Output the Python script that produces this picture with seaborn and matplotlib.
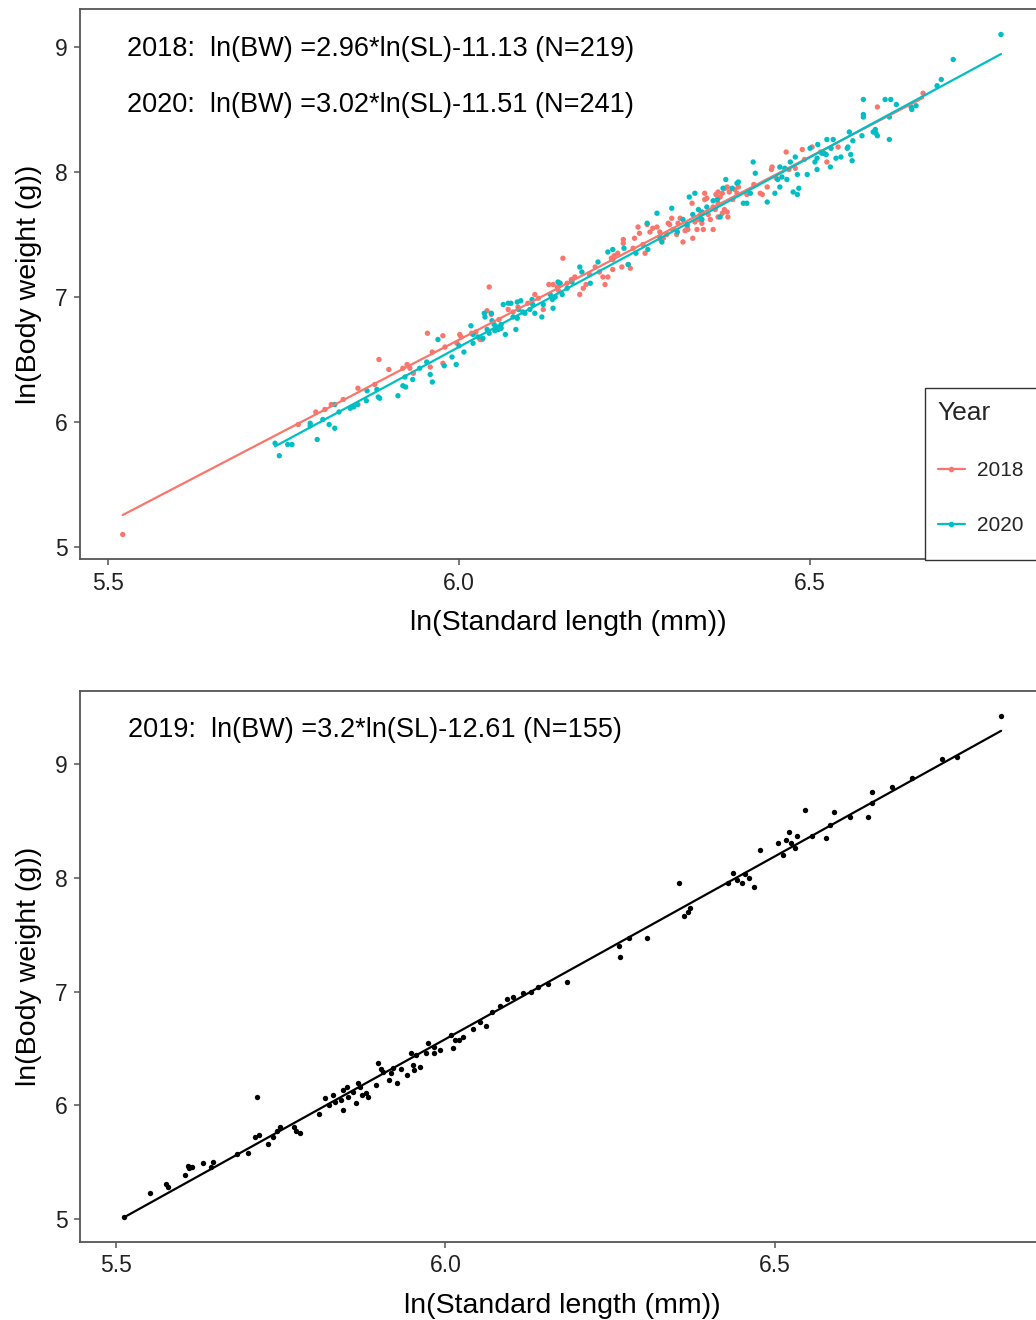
import numpy as np
import pandas as pd
import matplotlib
matplotlib.use('Agg')
import matplotlib.pyplot as plt
from matplotlib.lines import Line2D
from matplotlib.patches import Rectangle
import seaborn as sns

# ---------------- data (ln standard length, ln body weight) ----------------
years_top = ['2018', '2020']

x2018 = [5.521, 5.771, 5.796, 5.809, 5.818, 5.835, 5.856, 5.856, 5.880, 5.886,
         5.900, 5.920, 5.926, 5.930, 5.935, 5.955, 5.959, 5.962, 5.977, 5.977,
         5.980, 5.997, 6.001, 6.003, 6.018, 6.024, 6.030, 6.033, 6.040, 6.043,
         6.046, 6.057, 6.077, 6.084, 6.108, 6.113, 6.120, 6.128, 6.134, 6.140,
         6.148, 6.154, 6.160, 6.172, 6.177, 6.181, 6.194, 6.205, 6.208, 6.212,
         6.219, 6.217, 6.221, 6.219, 6.232, 6.234, 6.234, 6.241, 6.244, 6.248,
         6.255, 6.257, 6.265, 6.268, 6.272, 6.276, 6.282, 6.286, 6.291, 6.296,
         6.298, 6.303, 6.305, 6.312, 6.315, 6.319, 6.325, 6.326, 6.332, 6.333,
         6.339, 6.341, 6.346, 6.348, 6.350, 6.353, 6.362, 6.365, 6.369, 6.372,
         6.375, 6.382, 6.383, 6.382, 6.385, 6.390, 6.396, 6.661, 6.596, 6.524,
         6.503, 6.489, 6.466, 6.479, 6.446, 6.445, 6.439, 6.429, 6.432, 6.410,
         6.398, 6.393, 6.379, 6.375, 6.369, 6.366, 6.350, 6.378, 6.362, 6.355,
         6.369, 6.300, 6.310, 6.322, 6.336, 6.344, 6.358, 6.287, 6.262, 6.250,
         6.226, 6.200, 6.186, 6.165, 6.142, 6.098, 6.070, 6.420, 6.452, 6.470,
         6.492, 6.515, 6.540]
y2018 = [5.10, 5.98, 6.08, 6.10, 6.14, 6.18, 6.27, 6.14, 6.30, 6.50,
         6.42, 6.43, 6.46, 6.43, 6.39, 6.71, 6.44, 6.56, 6.69, 6.47,
         6.60, 6.63, 6.70, 6.68, 6.71, 6.72, 6.66, 6.66, 6.89, 7.08,
         6.86, 6.82, 6.88, 6.92, 7.02, 6.99, 6.90, 7.10, 7.10, 7.08,
         7.31, 7.11, 7.14, 7.02, 7.07, 7.10, 7.24, 7.16, 7.10, 7.16,
         7.22, 7.31, 7.33, 7.30, 7.24, 7.46, 7.43, 7.26, 7.23, 7.39,
         7.56, 7.51, 7.35, 7.58, 7.52, 7.55, 7.56, 7.52, 7.47, 7.50,
         7.59, 7.63, 7.54, 7.59, 7.63, 7.44, 7.56, 7.54, 7.75, 7.47,
         7.54, 7.62, 7.59, 7.54, 7.83, 7.79, 7.54, 7.70, 7.75, 7.80,
         7.67, 7.68, 7.64, 7.88, 7.84, 7.78, 7.83, 8.63, 8.52, 8.08,
         8.20, 8.18, 8.16, 8.03, 8.04, 8.02, 7.88, 7.83, 7.82, 7.82,
         7.88, 7.86, 7.87, 7.83, 7.84, 7.82, 7.78, 7.70, 7.72, 7.66,
         7.64, 7.58, 7.50, 7.53, 7.60, 7.66, 7.62, 7.46, 7.42, 7.47,
         7.35, 7.20, 7.18, 7.16, 7.05, 6.95, 6.90, 7.90, 7.95, 8.02,
         8.10, 8.16, 8.20]

x2020 = [5.738, 5.744, 5.756, 5.762, 5.788, 5.788, 5.798, 5.806, 5.815, 5.823,
         5.823, 5.829, 5.845, 5.850, 5.855, 5.868, 5.869, 5.883, 5.885, 5.887,
         5.913, 5.920, 5.924, 5.923, 5.934, 5.944, 5.954, 5.959, 5.962, 5.970,
         5.979, 5.990, 5.996, 6.000, 6.007, 6.017, 6.020, 6.020, 6.027, 6.034,
         6.036, 6.037, 6.046, 6.047, 6.043, 6.051, 6.054, 6.060, 6.066, 6.063,
         6.070, 6.074, 6.081, 6.083,
         6.040, 6.050, 6.056, 6.060, 6.077, 6.083, 6.088, 6.085, 6.091, 6.094,
         6.101, 6.105, 6.108, 6.104, 6.118, 6.120, 6.130, 6.133, 6.134, 6.137,
         6.141, 6.144, 6.147, 6.154, 6.161, 6.172, 6.175, 6.187, 6.198, 6.212,
         6.219, 6.235, 6.241, 6.252, 6.268, 6.269, 6.282, 6.286, 6.289, 6.303,
         6.311, 6.319, 6.325, 6.328, 6.333, 6.336, 6.341, 6.346, 6.353, 6.362,
         6.368, 6.372, 6.376, 6.380, 6.389, 6.396,
         6.704, 6.687, 6.681, 6.651, 6.645, 6.644, 6.623, 6.615, 6.607, 6.613,
         6.613, 6.593, 6.594, 6.590, 6.576, 6.576, 6.576, 6.574, 6.561, 6.556,
         6.554, 6.553, 6.558, 6.560, 6.544, 6.537, 6.533, 6.530, 6.524, 6.523,
         6.520, 6.529, 6.517, 6.511, 6.510, 6.507, 6.510, 6.500, 6.496, 6.484,
         6.482, 6.479, 6.472, 6.464, 6.467, 6.457, 6.460, 6.457, 6.454, 6.450,
         6.439, 6.422, 6.419, 6.415, 6.410, 6.405, 6.398, 6.346, 6.482, 6.476,
         6.772, 6.596]
y2020 = [5.83, 5.73, 5.82, 5.82, 5.97, 5.99, 5.86, 6.02, 5.98, 5.95,
         6.14, 6.08, 6.11, 6.12, 6.14, 6.17, 6.25, 6.26, 6.20, 6.19,
         6.21, 6.29, 6.28, 6.36, 6.34, 6.43, 6.48, 6.38, 6.32, 6.66,
         6.45, 6.52, 6.46, 6.61, 6.56, 6.77, 6.63, 6.70, 6.68, 6.67,
         6.87, 6.84, 6.87, 6.81, 6.71, 6.73, 6.76, 6.75, 6.70, 6.94,
         6.95, 6.95, 6.74, 6.83,
         6.74, 6.78, 6.74, 6.78, 6.84, 6.96, 6.97, 6.90, 6.88, 6.87,
         6.90, 6.94, 6.87, 6.98, 6.84, 6.94, 7.02, 6.98, 6.91, 7.00,
         7.12, 7.11, 7.02, 7.07, 7.12, 7.24, 7.20, 7.11, 7.28, 7.36,
         7.38, 7.39, 7.26, 7.35, 7.59, 7.38, 7.67, 7.48, 7.44, 7.71,
         7.52, 7.62, 7.58, 7.80, 7.66, 7.83, 7.70, 7.62, 7.72, 7.77,
         7.78, 7.64, 7.87, 7.94, 7.87, 7.91,
         8.90, 8.74, 8.69, 8.53, 8.50, 8.52, 8.54, 8.58, 8.58, 8.44,
         8.26, 8.34, 8.31, 8.32, 8.58, 8.46, 8.44, 8.29, 8.25, 8.32,
         8.20, 8.19, 8.14, 8.09, 8.12, 8.11, 8.26, 8.19, 8.26, 8.14,
         8.15, 8.04, 8.15, 8.22, 8.11, 8.08, 8.02, 8.19, 7.98, 7.87,
         7.98, 8.12, 8.08, 8.03, 7.94, 8.04, 7.96, 7.88, 7.94, 7.83,
         7.76, 7.99, 8.08, 7.83, 7.75, 7.75, 7.92, 7.68, 7.82, 7.84,
         9.10, 8.29]

x2019 = [5.512, 5.551, 5.576, 5.579, 5.605, 5.609, 5.611, 5.615, 5.632, 5.644,
         5.648, 5.683, 5.700, 5.714, 5.711, 5.717, 5.730, 5.739, 5.745, 5.749,
         5.770, 5.773, 5.780, 5.808, 5.817, 5.823, 5.830, 5.833, 5.841, 5.845,
         5.845, 5.850, 5.852, 5.859, 5.864, 5.868, 5.871, 5.874, 5.879, 5.882,
         5.894, 5.897, 5.902, 5.905, 5.914, 5.917, 5.921, 5.927, 5.932, 5.941,
         5.950, 5.952, 5.962, 5.947, 5.955, 5.970, 5.973, 5.982, 5.982, 5.992,
         6.008, 6.011, 6.015, 6.020, 6.026, 6.042, 6.053, 6.061, 6.071, 6.083,
         6.094, 6.103, 6.117, 6.129, 6.141, 6.155, 6.185, 6.264, 6.265, 6.279,
         6.306, 6.355, 6.362, 6.368, 6.371, 6.429, 6.436, 6.442, 6.450, 6.455,
         6.461, 6.468, 6.477, 6.505, 6.512, 6.517, 6.521, 6.524, 6.530, 6.533,
         6.545, 6.556, 6.577, 6.583, 6.589, 6.614, 6.641, 6.647, 6.647, 6.677,
         6.708, 6.753, 6.776, 6.843]
y2019 = [5.02, 5.23, 5.31, 5.28, 5.39, 5.47, 5.45, 5.46, 5.49, 5.46,
         5.50, 5.57, 5.58, 6.07, 5.72, 5.74, 5.66, 5.72, 5.77, 5.81,
         5.81, 5.77, 5.76, 5.92, 6.06, 6.00, 6.09, 6.03, 6.05, 5.96,
         6.13, 6.16, 6.07, 6.12, 6.02, 6.20, 6.16, 6.09, 6.11, 6.07,
         6.18, 6.37, 6.32, 6.29, 6.22, 6.28, 6.33, 6.20, 6.32, 6.27,
         6.35, 6.31, 6.34, 6.46, 6.44, 6.46, 6.55, 6.51, 6.46, 6.49,
         6.62, 6.50, 6.57, 6.57, 6.60, 6.67, 6.73, 6.70, 6.82, 6.87,
         6.93, 6.95, 6.99, 7.00, 7.04, 7.07, 7.08, 7.40, 7.30, 7.47,
         7.47, 7.95, 7.66, 7.70, 7.73, 7.95, 8.04, 7.98, 7.95, 8.03,
         8.00, 7.92, 8.24, 8.31, 8.20, 8.33, 8.40, 8.31, 8.26, 8.37,
         8.60, 8.37, 8.35, 8.46, 8.58, 8.53, 8.53, 8.66, 8.75, 8.80,
         8.88, 9.04, 9.06, 9.42]

eq2018 = "2018:  ln(BW) =2.96*ln(SL)-11.13 (N=219)"
eq2020 = "2020:  ln(BW) =3.02*ln(SL)-11.51 (N=241)"
eq2019 = "2019:  ln(BW) =3.2*ln(SL)-12.61 (N=155)"

# ---------------- style ----------------
sns.set_theme(style='ticks')
plt.rcParams['font.family'] = ['Liberation Sans', 'DejaVu Sans']

RED = '#F8766D'
TEAL = '#00BFC4'
SPINE = '#555555'
W, H = 1036, 1320

fig = plt.figure(figsize=(W / 100, H / 100), dpi=100)
ax1 = fig.add_axes([80 / W, 1 - 559 / H, 976 / W, 550 / H])
ax2 = fig.add_axes([80 / W, 1 - 1242 / H, 965 / W, 551 / H])

# ---------------- top panel ----------------
df_top = pd.DataFrame({
    'SL': x2018 + x2020,
    'BW': y2018 + y2020,
    'Year': [years_top[0]] * len(x2018) + [years_top[1]] * len(x2020),
})
sns.scatterplot(data=df_top, x='SL', y='BW', hue='Year',
                palette={'2018': RED, '2020': TEAL}, s=15, linewidth=0,
                ax=ax1, legend=False, zorder=2)
sns.regplot(x=np.array(x2018), y=np.array(y2018), scatter=False, ci=None,
            color=RED, line_kws={'lw': 1.6, 'zorder': 3}, ax=ax1)
sns.regplot(x=np.array(x2020), y=np.array(y2020), scatter=False, ci=None,
            color=TEAL, line_kws={'lw': 1.6, 'zorder': 4}, ax=ax1)
ax1.set_xlim(5.4601, 6.8504)
ax1.set_ylim(4.904, 9.304)
ax1.text(5.527, 8.985, eq2018, fontsize=19.5, ha='left', va='center', color='black')
ax1.text(5.527, 8.537, eq2020, fontsize=19.5, ha='left', va='center', color='black')

# legend: frame drawn as a rectangle so it sits flush with the panel bottom
frame = Rectangle((925 / W, 1 - 560 / H), 130 / W, 172 / H,
                  transform=fig.transFigure, facecolor='white',
                  edgecolor='#333333', linewidth=1.0, clip_on=False, zorder=5)
ax1.add_artist(frame)
handles = [Line2D([], [], color=RED, lw=1.6, marker='o', markersize=3),
           Line2D([], [], color=TEAL, lw=1.6, marker='o', markersize=3)]
leg = ax1.legend(handles, years_top, title='Year', loc='upper left',
                 bbox_to_anchor=(925 / W, 1 - 388 / H),
                 bbox_transform=fig.transFigure, fontsize=15, title_fontsize=19,
                 frameon=False, borderpad=0.6, handlelength=1.3,
                 handletextpad=0.6, labelspacing=1.75, alignment='left',
                 borderaxespad=0)
leg.set_zorder(6)

# ---------------- bottom panel ----------------
df_bot = pd.DataFrame({'SL': x2019, 'BW': y2019})
sns.scatterplot(data=df_bot, x='SL', y='BW', color='black', s=15,
                linewidth=0, ax=ax2, zorder=2)
sns.regplot(data=df_bot, x='SL', y='BW', scatter=False, ci=None,
            color='black', line_kws={'lw': 1.6, 'zorder': 3}, ax=ax2)
ax2.set_xlim(5.4455, 6.9096)
ax2.set_ylim(4.798, 9.642)
ax2.text(5.518, 9.30, eq2019, fontsize=19.5, ha='left', va='center', color='black')

# ---------------- axes styling ----------------
for ax in (ax1, ax2):
    ax.set_xticks([5.5, 6.0, 6.5])
    ax.set_xticklabels(['5.5', '6.0', '6.5'])
    ax.set_yticks([5, 6, 7, 8, 9])
    ax.set_yticklabels(['5', '6', '7', '8', '9'])
    ax.tick_params(direction='out', length=4, width=1.1, color=SPINE,
                   labelsize=16.5, labelcolor='#222222', pad=5)
    for sp in ax.spines.values():
        sp.set_visible(True)
        sp.set_color(SPINE)
        sp.set_linewidth(1.3)
    ax.set_xlabel('ln(Standard length (mm))', fontsize=20.5, color='black', labelpad=11)
    ax.set_ylabel('ln(Body weight (g))', fontsize=20.5, color='black', labelpad=9)
    ax.set_facecolor('white')

fig.savefig('out.png', dpi=100, facecolor='white')
